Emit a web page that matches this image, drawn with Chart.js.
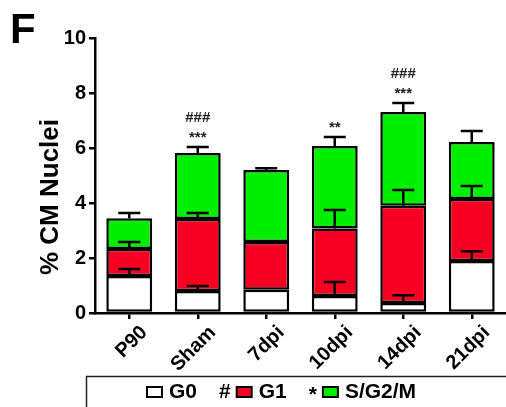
<!DOCTYPE html>
<html>
<head>
<meta charset="utf-8">
<script src="https://cdn.jsdelivr.net/npm/chart.js@4"></script>
<style>
  body { margin: 0; background: #fff; }
  #wrap { width: 506px; height: 407px; }
</style>
</head>
<body>
<div id="wrap"><canvas id="myChart"></canvas></div>
<script>
// data
const labels = ['P90', 'Sham', '7dpi', '10dpi', '14dpi', '21dpi'];
const g0 = [1.35, 0.80, 0.85, 0.62, 0.36, 1.89];
const g1 = [0.98, 2.62, 1.73, 2.45, 3.54, 2.26];
const sg2m = [1.12, 2.40, 2.62, 3.00, 3.41, 2.07];
const semG0 = [0.25, 0.18, 0, 0.51, 0.29, 0.36];
const semG1 = [0.25, 0.22, 0, 0.68, 0.57, 0.47];
const semS = [0.19, 0.22, 0.06, 0.33, 0.33, 0.40];
const stars = ['', '***', '', '**', '***', ''];
const hashes = ['', '###', '', '', '###', ''];
const yTicks = [0, 2, 4, 6, 8, 10];

const FONT = "'Liberation Sans', Arial, sans-serif";

const extras = {
  id: 'extras',
  afterDatasetsDraw(chart) {
    const ctx = chart.ctx;
    const x = chart.scales.x, y = chart.scales.y;
    const vals = [g0, g1, sg2m];
    const sems = [semG0, semG1, semS];
    ctx.save();
    ctx.strokeStyle = '#000';
    ctx.lineWidth = 2.5;
    labels.forEach((lab, i) => {
      const cx = x.getPixelForValue(i);
      let base = 0;
      vals.forEach((arr, k) => {
        base += arr[i];
        const e = sems[k][i];
        if (e <= 0) return;
        const y0 = y.getPixelForValue(base);
        const y1 = y.getPixelForValue(base + e);
        ctx.beginPath();
        ctx.moveTo(cx, y0);
        ctx.lineTo(cx, y1);
        ctx.moveTo(cx - 11, y1);
        ctx.lineTo(cx + 11, y1);
        ctx.stroke();
      });
      // significance marks
      const top = y.getPixelForValue(base + semS[i]);
      ctx.fillStyle = '#222';
      ctx.textAlign = 'center';
      ctx.textBaseline = 'middle';
      ctx.font = 'bold 15px ' + FONT;
      if (stars[i]) ctx.fillText(stars[i], cx, top - 9);
      ctx.font = 'bold 15px ' + FONT;
      if (hashes[i]) ctx.fillText(hashes[i], cx, top - 29);
    });
    ctx.restore();
  },
  afterDraw(chart) {
    const ctx = chart.ctx;
    ctx.save();
    // panel letter
    ctx.fillStyle = '#000';
    ctx.font = 'bold 42px ' + FONT;
    ctx.textAlign = 'left';
    ctx.textBaseline = 'alphabetic';
    ctx.fillText('F', 10, 43);

    // y title
    ctx.save();
    ctx.translate(51, 197);
    ctx.rotate(-Math.PI / 2);
    ctx.font = 'bold 26px ' + FONT;
    ctx.textAlign = 'center';
    ctx.textBaseline = 'middle';
    ctx.fillText('% CM Nuclei', 0, 0);
    ctx.restore();

    // legend frame
    ctx.strokeStyle = '#222';
    ctx.lineWidth = 1.5;
    ctx.strokeRect(86.5, 376.5, 440, 40);

    // legend items
    const prefix = ['', '#', '*'];
    let lx = 147;
    const ly = 392;
    chart.data.datasets.forEach((ds, k) => {
      ctx.fillStyle = '#000';
      ctx.textBaseline = 'middle';
      if (prefix[k]) {
        ctx.font = 'bold 21px ' + FONT;
        ctx.fillText(prefix[k], lx, prefix[k] === '*' ? ly + 3 : ly);
        lx += ctx.measureText(prefix[k]).width + 6;
      }
      ctx.fillStyle = ds.backgroundColor;
      ctx.fillRect(lx, ly - 5, 15, 10);
      ctx.strokeStyle = '#000';
      ctx.lineWidth = 2;
      ctx.strokeRect(lx, ly - 5, 15, 10);
      lx += 15 + 7;
      ctx.fillStyle = '#000';
      ctx.font = 'bold 21px ' + FONT;
      ctx.fillText(ds.label, lx, ly);
      lx += ctx.measureText(ds.label).width + 22;
    });
    ctx.restore();
  }
};

const ctx = document.getElementById('myChart').getContext('2d');
const barStyle = {
  borderColor: '#000',
  borderWidth: 2.5,
  borderSkipped: false,
  categoryPercentage: 1.0,
  barPercentage: 0.67
};
const myChart = new Chart(ctx, {
  type: 'bar',
  data: {
    labels: labels,
    datasets: [
      Object.assign({ label: 'G0', data: g0, backgroundColor: '#ffffff' }, barStyle),
      Object.assign({ label: 'G1', data: g1, backgroundColor: '#f80022' }, barStyle),
      Object.assign({ label: 'S/G2/M', data: sg2m, backgroundColor: '#00ee00' }, barStyle)
    ]
  },
  options: {
    responsive: true,
    maintainAspectRatio: false,
    animation: false,
    layout: { padding: { top: 38, left: 0, right: 0, bottom: 34 } },
    plugins: {
      legend: { display: false },
      tooltip: { enabled: false }
    },
    scales: {
      x: {
        stacked: true,
        afterFit: (s) => { s.height = 60; },
        grid: { drawOnChartArea: false, offset: false, color: '#000', lineWidth: 2.5, tickLength: 6 },
        border: { color: '#000', width: 2.5 },
        ticks: {
          color: '#000',
          font: { family: FONT, size: 20, weight: 'bold' },
          minRotation: 45,
          maxRotation: 45,
          labelOffset: 15,
          padding: 2
        }
      },
      y: {
        stacked: true,
        min: 0,
        max: 10,
        afterFit: (s) => { s.width = 95; },
        afterBuildTicks: (s) => { s.ticks = yTicks.map(v => ({ value: v })); },
        grid: { drawOnChartArea: false, color: '#000', lineWidth: 2.5, tickLength: 6 },
        border: { color: '#000', width: 2.5 },
        ticks: {
          color: '#000',
          font: { family: FONT, size: 20, weight: 'bold' },
          padding: 3
        }
      }
    }
  },
  plugins: [extras]
});
</script>
</body>
</html>
